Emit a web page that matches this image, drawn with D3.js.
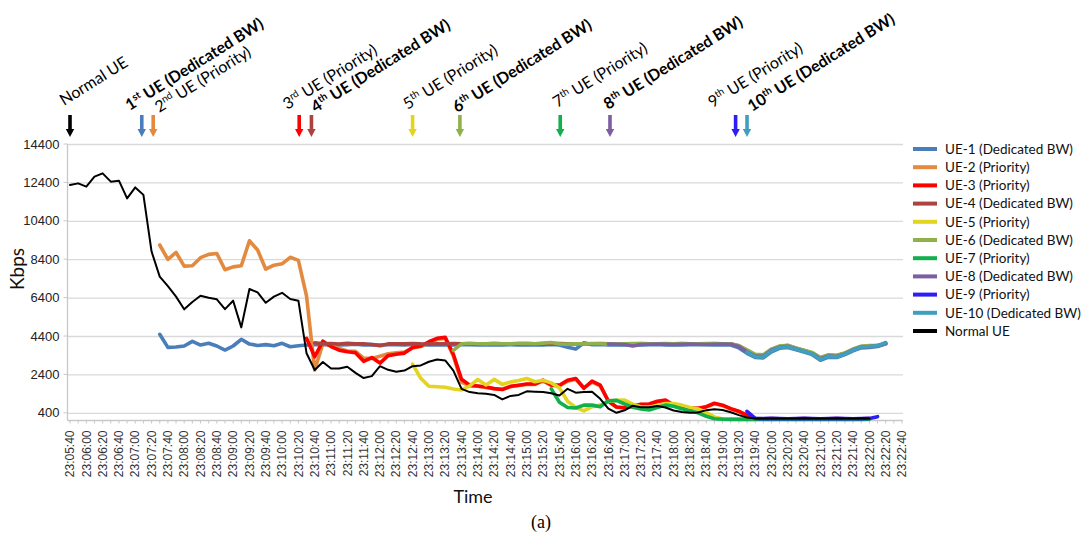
<!DOCTYPE html>
<html>
<head>
<meta charset="utf-8">
<script src="https://cdnjs.cloudflare.com/ajax/libs/d3/7.8.5/d3.min.js"></script>
<style>
  body { margin: 0; background: #fff; }
  svg text { font-family: Lato, 'Open Sans', sans-serif; }
</style>
</head>
<body>
<svg id="chart" width="1084" height="538"></svg>
<script>
// samples are 10 s apart, index 0 = 23:05:40
const STEP = 10;

const timeLabels = [
  '23:05:40', '23:06:00', '23:06:20', '23:06:40', '23:07:00', '23:07:20', '23:07:40', '23:08:00',
  '23:08:20', '23:08:40', '23:09:00', '23:09:20', '23:09:40', '23:10:00', '23:10:20', '23:10:40',
  '23:11:00', '23:11:20', '23:11:40', '23:12:00', '23:12:20', '23:12:40', '23:13:00', '23:13:20',
  '23:13:40', '23:14:00', '23:14:20', '23:14:40', '23:15:00', '23:15:20', '23:15:40', '23:16:00',
  '23:16:20', '23:16:40', '23:17:00', '23:17:20', '23:17:40', '23:18:00', '23:18:20', '23:18:40',
  '23:19:00', '23:19:20', '23:19:40', '23:20:00', '23:20:20', '23:20:40', '23:21:00', '23:21:20',
  '23:21:40', '23:22:00', '23:22:20', '23:22:40',
];
const yTicks = [400, 2400, 4400, 6400, 8400, 10400, 12400, 14400];

const seriesNames = [
  'UE-1 (Dedicated BW)', 'UE-2 (Priority)', 'UE-3 (Priority)', 'UE-4 (Dedicated BW)',
  'UE-5 (Priority)', 'UE-6 (Dedicated BW)', 'UE-7 (Priority)', 'UE-8 (Dedicated BW)',
  'UE-9 (Priority)', 'UE-10 (Dedicated BW)', 'Normal UE',
];
// first sample index of every series
const seriesStart = [11, 11, 29, 30, 42, 47, 59, 66, 83, 83, 0];

const ue1 = [
  4490, 3810, 3830, 3880, 4120, 3930, 4020, 3880, 3670, 3880, 4230, 3980, 3910, 3950, 3890, 4020, 3840, 3890, 3930,
  3950, 3960, 3940, 3930, 3950, 3970, 3940, 3950, 3930, 3960,
  3950, 3940, 3960, 3950, 3930, 3940, 3950, 3940, 3960, 3950,
  3940, 3930, 3950, 3940, 3950, 3940, 3930, 3950, 3940, 3960,
  3930, 3820, 3720, 4050, 3950, 3960, 3940, 3950, 3930, 3950,
  3940, 3950, 3960, 3940, 3950, 3940, 3950, 3960, 3950, 3940,
  3950, 3930, 3780, 3500, 3280, 3260, 3580, 3760, 3800, 3690,
  3570, 3430, 3140, 3300, 3280, 3430, 3630, 3780, 3810, 3850, 3990,
];
const ue2 = [
  9140, 8390, 8750, 8040, 8060, 8480, 8650, 8700, 7850, 8000,
  8060, 9360, 8880, 7880, 8090, 8160, 8500, 8340, 6480, 2630,
  4000, 3900, 3750, 3620, 3600, 3250, 3230, 3350, 3480, 3520,
  3560, 3780, 3850, 4050, 4220, 4280, 3350, 2000, 1800, 1780,
  1720, 1650, 1640, 1760, 1820, 1880, 1880, 2050, 1830, 1800,
  2050, 2150, 1700, 2000, 1800, 1020, 690, 650, 740, 830,
  850, 980, 1030, 790, 700, 630, 630, 700, 870, 780,
  600, 460, 260, 100, 90, 90, 80, 90, 90, 80,
  90, 80, 90, 90, 80, 90, 80, 90,
];
const ue3 = [
  4280, 3320, 4130, 3850, 3660, 3580, 3530, 3080, 3280, 2990,
  3380, 3450, 3510, 3800, 3880, 4100, 4280, 4330, 3450, 2150,
  1840, 1800, 1740, 1660, 1610, 1780, 1840, 1900, 1900, 2100,
  1850, 1840, 2100, 2190, 1680, 2050, 1840, 1000, 700, 660,
  750, 850, 860, 1000, 1060, 800, 720, 640, 640, 720,
  900, 800, 620, 480, 280, 100, 90, 100, 90, 80,
  90, 100, 90, 80, 90, 100, 90, 80, 90, 100,
];
const ue4 = [
  4050, 3990, 4010, 3980, 4020, 3990, 4000, 3960, 3890, 3990,
  4000, 3990, 4010, 3990, 3980, 4000, 3990, 4010, 3990, 4000,
  3990, 4000, 4010, 3990, 4000, 3990, 4010, 4000, 3990, 4000,
  4010, 3990, 4000, 3990, 4000, 4010, 3990, 4000, 3990, 4000,
  4010, 4000, 3990, 4000, 3990, 4010, 4000, 3990, 4000, 4010,
  3990, 4000, 3880, 3620, 3400, 3380, 3700, 3850, 3900, 3760,
  3640, 3510, 3240, 3400, 3370, 3500, 3700, 3850, 3880, 3900, 4020,
];
const ue5 = [
  2940, 2200, 1780, 1760, 1730, 1640, 1590, 1800, 2140, 1850,
  2140, 1880, 2000, 2080, 2190, 2020, 2100, 1960, 1700, 1000,
  680, 500, 720, 800, 1000, 1050, 1060, 850, 700, 700,
  760, 880, 880, 800, 680, 600, 420, 180, 80, 70,
  70, 60, 70, 70, 60, 70, 70, 60, 70, 70,
  60, 70, 70, 60, 70, 70, 60,
];
const ue6 = [
  3650, 3990, 4020, 4000, 3990, 4010, 4000, 3990, 4020, 4010,
  4000, 4030, 4060, 3990, 3980, 4000, 3990, 4010, 4000, 3980,
  4000, 3990, 4010, 4000, 3990, 4000, 4010, 3990, 4000, 3990,
  4000, 4010, 3990, 4000, 3990, 3900, 3680, 3450, 3420, 3720,
  3880, 3920, 3780, 3660, 3540, 3280, 3420, 3400, 3520, 3720,
  3870, 3900, 3920, 3980,
];
const ue7 = [
  1650, 950, 680, 650, 800, 800, 720, 1030, 1050, 860,
  690, 600, 550, 680, 800, 740, 610, 500, 400, 220,
  90, 70, 60, 60, 70, 60, 60, 70, 60, 60,
  70, 60, 60, 70, 60, 60, 70, 60, 60, 70,
];
const ue8 = [
  3980, 3970, 3960, 3880, 3960, 3970, 3980, 3970, 3960, 3970,
  3980, 3970, 3960, 3970, 3980, 3970, 3860, 3580, 3360, 3340,
  3660, 3820, 3860, 3730, 3600, 3470, 3200, 3360, 3330, 3470,
  3670, 3830, 3850, 3880, 4010,
];
const ue9 = [480, 110, 100, 110, 100, 90, 100, 110, 100, 90, 100, 110, 100, 90, 100, 110, 200];
const ue10 = [3560, 3320, 3300, 3630, 3800, 3840, 3710, 3590, 3460, 3170, 3340, 3310, 3460, 3660, 3830, 3850, 3890, 4060];
const normalUe = [
  12260, 12350, 12180, 12700, 12870, 12440, 12490, 11570, 12140, 11750,
  8800, 7490, 7000, 6450, 5790, 6170, 6500, 6390, 6310, 5800,
  6240, 4850, 6850, 6670, 6130, 6450, 6650, 6330, 6240, 3500,
  2630, 3050, 2710, 2710, 2800, 2480, 2210, 2310, 2830, 2640,
  2540, 2600, 2830, 2870, 3060, 3180, 3130, 2600, 1650, 1480,
  1420, 1390, 1330, 1100, 1280, 1330, 1520, 1500, 1480, 1420,
  1300, 1650, 1450, 1480, 1500, 1130, 620, 400, 530, 770,
  690, 690, 750, 680, 520, 440, 400, 420, 540, 580,
  550, 430, 280, 150, 110, 110, 110, 100, 100, 110,
  120, 110, 100, 110, 120, 110, 110, 120, 110,
];
const seriesValues = [ue1, ue2, ue3, ue4, ue5, ue6, ue7, ue8, ue9, ue10, normalUe];

// arrival annotations: seconds after 23:05:40, which series the arrow belongs to
const arrivalTimes = [0, 88, 102, 281, 296, 420, 478, 601, 662, 816, 830];
const arrivalSeries = [10, 0, 1, 2, 3, 4, 5, 6, 7, 8, 9];
const arrivalNumber = ['', '1', '2', '3', '4', '5', '6', '7', '8', '9', '10'];
const arrivalSuffix = ['', 'st', 'nd', 'rd', 'th', 'th', 'th', 'th', 'th', 'th', 'th'];
const arrivalText = [
  'Normal UE', ' UE (Dedicated BW)', ' UE (Priority)', ' UE (Priority)', ' UE (Dedicated BW)',
  ' UE (Priority)', ' UE (Dedicated BW)', ' UE (Priority)', ' UE (Dedicated BW)', ' UE (Priority)',
  ' UE (Dedicated BW)',
];
const arrivalBold = [false, true, false, false, true, false, true, false, true, false, true];

// --- styling / layout ---
const COLORS = ['#4a7ebb', '#e38a3e', '#ff0000', '#ad4341', '#e3d420', '#8fb04b', '#12b04c', '#7b5fa0', '#2b1ff5', '#3f9fbf', '#000000'];
// label start relative to arrow x, and absolute baseline y
const LABEL_POS = [[-6, 106], [-12, 111], [6, 113], [-12, 110], [4, 113], [-5, 110], [-3, 113], [-3, 108], [-2, 110], [-23, 108], [5, 112]];
const LABEL_ANGLE = -32;
const PLOT_LEFT = 67.5;
const PLOT_RIGHT = 903;

const svg = d3.select('#chart');

const x = d3.scaleLinear().domain([0, 1020]).range([70, 902]);
const y = d3.scaleLinear().domain([0, 14400]).range([420.5, 144]);

// gridlines + y labels
const yAxis = svg
  .append('g')
  .attr('transform', `translate(${PLOT_LEFT},0)`)
  .call(
    d3
      .axisLeft(y)
      .tickValues(yTicks)
      .tickSize(-(PLOT_RIGHT - PLOT_LEFT))
      .tickPadding(8)
      .tickFormat(d3.format('d'))
  );
yAxis.select('.domain').remove();
yAxis.selectAll('.tick line').attr('stroke', '#d9d9d9').attr('stroke-width', 1.3);
yAxis
  .selectAll('.tick text')
  .attr('fill', '#222')
  .style('font-family', "'Liberation Sans', Arial, sans-serif")
  .style('font-size', '13px');

// left axis line with small outward ticks
svg
  .append('line')
  .attr('x1', PLOT_LEFT)
  .attr('x2', PLOT_LEFT)
  .attr('y1', y(14400))
  .attr('y2', y(0))
  .attr('stroke', '#c8c8c8')
  .attr('stroke-width', 1.3);
svg
  .append('g')
  .selectAll('line')
  .data(yTicks)
  .enter()
  .append('line')
  .attr('x1', PLOT_LEFT - 4)
  .attr('x2', PLOT_LEFT)
  .attr('y1', (d) => y(d))
  .attr('y2', (d) => y(d))
  .attr('stroke', '#c8c8c8');

// x axis
const xAxisY = y(0);
svg
  .append('line')
  .attr('x1', PLOT_LEFT)
  .attr('x2', PLOT_RIGHT)
  .attr('y1', xAxisY)
  .attr('y2', xAxisY)
  .attr('stroke', '#c8c8c8')
  .attr('stroke-width', 1.3);
svg
  .append('g')
  .selectAll('line')
  .data(d3.range(0, 1021, STEP))
  .enter()
  .append('line')
  .attr('x1', (d) => x(d))
  .attr('x2', (d) => x(d))
  .attr('y1', xAxisY)
  .attr('y2', xAxisY + 3)
  .attr('stroke', '#c8c8c8');

svg
  .append('g')
  .selectAll('text')
  .data(timeLabels)
  .enter()
  .append('text')
  .attr('transform', (d, i) => `translate(${x(i * 20)},${xAxisY + 10}) rotate(-90)`)
  .attr('text-anchor', 'end')
  .attr('dy', '0.35em')
  .attr('fill', '#333')
  .style('font-family', "'Liberation Sans', Arial, sans-serif")
  .style('font-size', '12px')
  .text((d) => d);

// axis titles
svg
  .append('text')
  .attr('transform', 'translate(24,269) rotate(-90)')
  .attr('text-anchor', 'middle')
  .style('font-size', '19px')
  .attr('fill', '#111')
  .text('Kbps');
svg
  .append('text')
  .attr('x', 473)
  .attr('y', 503)
  .attr('text-anchor', 'middle')
  .style('font-size', '18px')
  .attr('fill', '#111')
  .text('Time');
svg
  .append('text')
  .attr('x', 541)
  .attr('y', 528)
  .attr('text-anchor', 'middle')
  .style('font-family', "'Liberation Serif', 'Times New Roman', serif")
  .style('font-size', '18px')
  .attr('fill', '#000')
  .text('(a)');

// series lines
const line = d3
  .line()
  .x((d) => x(d.t))
  .y((d) => y(d.v));

const lines = svg.append('g').attr('class', 'series');
seriesValues.forEach((vals, s) => {
  const pts = vals.map((v, i) => ({ t: (seriesStart[s] + i) * STEP, v }));
  lines
    .append('path')
    .datum(pts)
    .attr('d', line)
    .attr('fill', 'none')
    .attr('stroke', COLORS[s])
    .attr('stroke-width', s === 10 ? 2 : 3.6)
    .attr('stroke-linejoin', 'round')
    .attr('stroke-linecap', 'round');
});

// arrival arrows
const arrows = svg.append('g').attr('class', 'arrows');
arrivalTimes.forEach((t, i) => {
  const ax = x(t);
  const col = COLORS[arrivalSeries[i]];
  arrows
    .append('rect')
    .attr('x', ax - 1.8)
    .attr('y', 115)
    .attr('width', 3.6)
    .attr('height', 16)
    .attr('fill', col);
  arrows
    .append('path')
    .attr('d', `M${ax - 4.2},129 L${ax + 4.2},129 L${ax},137 Z`)
    .attr('fill', col);
});

// arrival labels
const labels = svg.append('g').attr('class', 'arrival-labels');
arrivalTimes.forEach((t, i) => {
  const [dx, by] = LABEL_POS[i];
  const txt = labels
    .append('text')
    .attr('transform', `translate(${x(t) + dx},${by}) rotate(${LABEL_ANGLE})`)
    .attr('fill', '#000')
    .style('font-size', '16px')
    .style('font-weight', arrivalBold[i] ? 700 : 400);
  if (arrivalNumber[i]) {
    txt.append('tspan').text(arrivalNumber[i]);
    txt.append('tspan').attr('dy', -6).style('font-size', '10px').text(arrivalSuffix[i]);
    txt.append('tspan').attr('dy', 6).text(arrivalText[i]);
  } else {
    txt.text(arrivalText[i]);
  }
});

// legend
const legend = svg.append('g').attr('class', 'legend');
seriesNames.forEach((name, i) => {
  const ly = 149 + i * 18.2;
  legend
    .append('line')
    .attr('x1', 913)
    .attr('x2', 937)
    .attr('y1', ly)
    .attr('y2', ly)
    .attr('stroke', COLORS[i])
    .attr('stroke-width', 4);
  legend
    .append('text')
    .attr('x', 945)
    .attr('y', ly)
    .attr('dy', '0.35em')
    .style('font-size', '13.5px')
    .attr('fill', '#111')
    .text(name);
});
</script>
</body>
</html>
